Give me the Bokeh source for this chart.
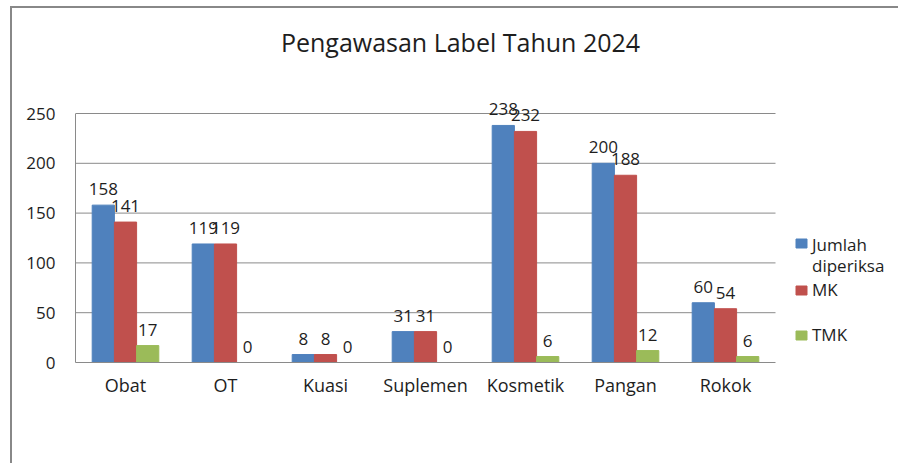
import numpy as np
from bokeh.plotting import figure
from bokeh.models import Range1d, FixedTicker, Label
from bokeh.core.properties import value
from bokeh.embed import file_html
from bokeh.resources import INLINE

# ---- data ----
title_text = "Pengawasan Label Tahun 2024"
categories = ["Obat", "OT", "Kuasi", "Suplemen", "Kosmetik", "Pangan", "Rokok"]
series_names = ["Jumlah diperiksa", "MK", "TMK"]
jumlah = [158, 119, 8, 31, 238, 200, 60]
mk = [141, 119, 8, 31, 232, 188, 54]
tmk = [17, 0, 0, 0, 6, 12, 6]
y_ticks = [0, 50, 100, 150, 200, 250]

# ---- style ----
FONT = "Open Sans"
TXT = "#1e1e1e"
GRID = "#8a8a8a"
colors = ["#4F81BD", "#C0504D", "#9BBB59"]

n = len(categories)
centers = np.arange(n) + 0.5
bar_w = 0.222
offsets = [-bar_w, 0.0, bar_w]
series = [jumlah, mk, tmk]

# page geometry: canvas origin at page (12, 8); plot area x 75..775, y 113..362
CANVAS_X0, CANVAS_Y0 = 12, 8
W, H = 888, 457
FRAME_LEFT = 75.0
FRAME_BOTTOM = 362.0
PX_PER_UNIT_Y = 249.0 / y_ticks[-1]
PX_PER_CAT = 100.0


def py(page_y):
    return (FRAME_BOTTOM - page_y) / PX_PER_UNIT_Y


def px(page_x):
    return (page_x - FRAME_LEFT) / PX_PER_CAT


frame_right = CANVAS_X0 + W
frame_top = CANVAS_Y0
p = figure(width=W, height=H,
           x_range=Range1d(0, px(frame_right)), y_range=Range1d(0, py(frame_top)),
           output_backend="svg", toolbar_location=None, tools="",
           min_border_left=int(FRAME_LEFT - CANVAS_X0), min_border_right=0,
           min_border_top=0,
           min_border_bottom=int(CANVAS_Y0 + H - FRAME_BOTTOM))
p.styles = {"border-left": "2px solid #888888", "border-top": "2px solid #888888",
            "margin-left": "10px", "margin-top": "6px"}
p.outline_line_color = None
p.background_fill_color = "white"
p.border_fill_color = "white"
p.xgrid.visible = False
p.ygrid.visible = False

# gridlines (only over the category area)
gy = [t for t in y_ticks if t > 0]
p.segment(x0=[0] * len(gy), x1=[n] * len(gy), y0=gy, y1=gy,
          line_color=GRID, line_width=1)

# bars + labels
for vals, off, col in zip(series, offsets, colors):
    xs = centers + off
    p.vbar(x=xs, top=vals, width=bar_w, fill_color=col, line_color=col)
    p.text(x=xs, y=vals, text=[str(v) for v in vals],
           text_align="center", text_baseline="alphabetic", y_offset=-16,
           text_font=value(FONT), text_font_size="17px", text_color=TXT)

# y axis
ya = p.yaxis[0]
ya.ticker = FixedTicker(ticks=y_ticks)
ya.bounds = (y_ticks[0], y_ticks[-1])
ya.major_tick_line_color = None
ya.minor_tick_line_color = None
ya.major_tick_out = 0
ya.major_tick_in = 0
ya.axis_line_color = GRID
ya.major_label_text_font = FONT
ya.major_label_text_font_size = "17px"
ya.major_label_text_color = TXT
ya.major_label_standoff = 20

# x axis
xa = p.xaxis[0]
xa.ticker = FixedTicker(ticks=[float(c) for c in centers])
xa.major_label_overrides = {float(c): lab for c, lab in zip(centers, categories)}
xa.bounds = (0, n)
xa.major_tick_line_color = None
xa.minor_tick_line_color = None
xa.major_tick_out = 0
xa.major_tick_in = 0
xa.axis_line_color = GRID
xa.major_label_text_font = FONT
xa.major_label_text_font_size = "18px"
xa.major_label_text_color = TXT
xa.major_label_standoff = 10

# legend (manual)
sq_y = [243, 290, 335]
p.rect(x=[px(801)] * 3, y=[py(v) for v in sq_y], width=11, height=9,
       width_units="screen", height_units="screen",
       fill_color=colors, line_color=colors)
leg_lines = []
leg_y = []
base_y = [244, 289, 334]
for name, by in zip(series_names, base_y):
    words = name.split(" ")
    for i, w in enumerate(words):
        leg_lines.append(w)
        leg_y.append(py(by + 21 * i))
p.text(x=[px(811.5)] * len(leg_lines), y=leg_y, text=leg_lines,
       text_align="left", text_baseline="alphabetic",
       text_font=value(FONT), text_font_size="17px", text_color=TXT)

# title
p.add_layout(Label(x=px(460), y=py(41), text=title_text,
                   text_align="center", text_baseline="alphabetic",
                   text_font=FONT, text_font_size="25px", text_color=TXT))

open("out.html", "w").write(file_html(p, INLINE))
